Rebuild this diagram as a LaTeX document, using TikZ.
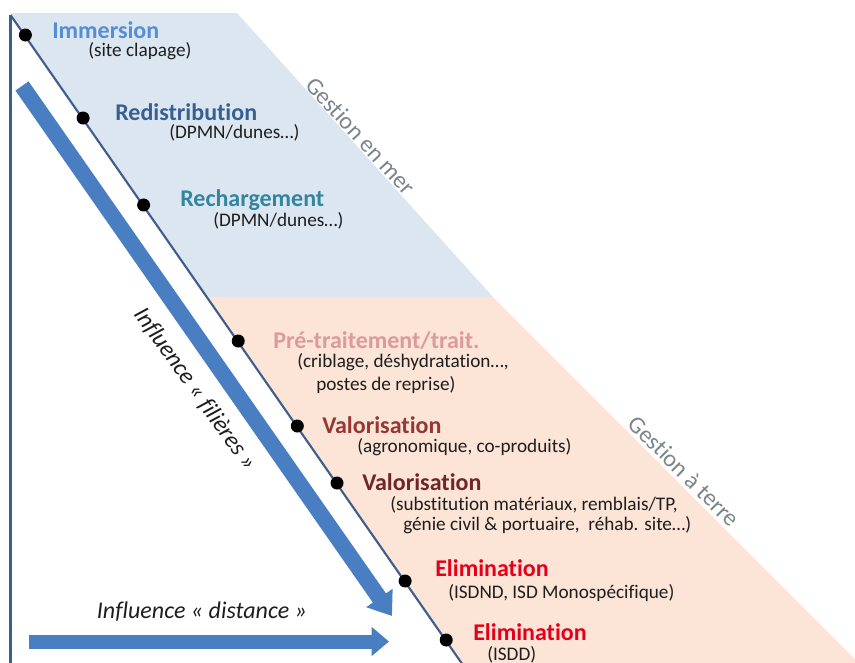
\documentclass[tikz,border=0pt]{standalone}
\usepackage{fontspec}
\setmainfont{Carlito}[Ligatures=NoCommon]
\usetikzlibrary{arrows.meta}
\definecolor{seablue}{HTML}{DCE6F1}
\definecolor{landorange}{HTML}{FCE4D6}
\definecolor{axisblue}{HTML}{3F5E8C}
\definecolor{arrowblue}{HTML}{4A7EC2}
\definecolor{subgrey}{HTML}{1E1E1E}
\definecolor{gestgrey}{HTML}{7E848C}
\definecolor{cImm}{HTML}{558ED5}
\definecolor{cRed}{HTML}{376092}
\definecolor{cRec}{HTML}{31859C}
\definecolor{cPre}{HTML}{DB9A9C}
\definecolor{cValA}{HTML}{953735}
\definecolor{cValB}{HTML}{6E2626}
\definecolor{cEli}{HTML}{E2001A}
\begin{document}
\begin{tikzpicture}[x=0.75pt,y=-0.75pt,
  title/.style={anchor=west, inner sep=0pt, font=\bfseries\fontsize{18}{20}\selectfont},
  sub/.style={anchor=west, inner sep=0pt, text=subgrey, font=\fontsize{14.4}{16}\selectfont},
  dotnode/.style={circle, fill=black, inner sep=0pt, minimum size=9.75pt},
  gestion/.style={inner sep=0pt, text=gestgrey, font=\fontsize{18}{20}\selectfont},
  influence/.style={inner sep=0pt, text=subgrey, font=\itshape\fontsize{18}{20}\selectfont},
  axisline/.style={draw=axisblue, line width=1.6pt},
  fatarrow/.style={draw=arrowblue, line cap=butt}
]
\useasboundingbox (0,0) rectangle (855,662);
\clip (0,0) rectangle (855,662);
% regions
\fill[seablue] (10.1,13) -- (237,13) -- (493,297) -- (207.6,297) -- cycle;
\fill[landorange] (207.6,297) -- (493,297) -- (862,666) -- (463.6,666) -- cycle;
% axes
\coordinate (vTop) at (10.5,15);
\coordinate (vBot) at (10.5,664);
\coordinate (dBot) at (463.6,666);
\draw[axisline, line width=1.9pt] (vTop) -- (vBot);
\draw[axisline] (vTop) -- (dBot);
% arrows
\coordinate (fA) at (22,86);
\coordinate (fB) at (392,616);
\draw[fatarrow, line width=12pt, -{Triangle[width=23pt,length=16.5pt]}] (fA) -- (fB);
\coordinate (hA) at (29,641.5);
\coordinate (hB) at (389,641.5);
\draw[fatarrow, line width=10.5pt, -{Triangle[width=21pt,length=13pt]}] (hA) -- (hB);
% dots
\node[dotnode] (d1) at (25.4,35) {};
\node[dotnode] (d2) at (83.1,118) {};
\node[dotnode] (d3) at (143.6,205) {};
\node[dotnode] (d4) at (238.2,341) {};
\node[dotnode] (d5) at (297.3,426) {};
\node[dotnode] (d6) at (337.0,483) {};
\node[dotnode] (d7) at (405.1,581) {};
\node[dotnode] (d8) at (446.2,640) {};
% labels
\node[title, text=cImm] (t1) at (52,30) {Immersion};
\node[sub] (s1) at (88,51) {(site clapage)};
\node[title, text=cRed] (t2) at (115,112) {Redistribution};
\node[sub] (s2) at (169,133) {(DPMN/dunes…)};
\node[title, text=cRec] (t3) at (180,200) {Rechargement};
\node[sub] (s3) at (213,221) {(DPMN/dunes…)};
\node[title, text=cPre] (t4) at (273,341) {Pré-traitement/trait.};
\node[sub] (s4a) at (297,362) {(criblage, déshydratation…,};
\node[sub] (s4b) at (316,385) {postes de reprise)};
\node[title, text=cValA] (t5) at (322,425) {Valorisation};
\node[sub] (s5) at (357,447) {(agronomique, co-produits)};
\node[title, text=cValB] (t6) at (362,482) {Valorisation};
\node[sub] (s6a) at (390,505) {(substitution matériaux, remblais/TP,};
\node[sub] (s6b) at (403,525) {génie civil \& portuaire,\ \ réhab. site…)};
\node[title, text=cEli] (t7) at (435,568) {Elimination};
\node[sub] (s7) at (448,593) {(ISDND, ISD Monospécifique)};
\node[title, text=cEli] (t8) at (473,632) {Elimination};
\node[sub] (s8) at (487,655) {(ISDD)};
% side labels
\node[gestion, rotate=-47.6] (gm) at (361,136) {Gestion en mer};
\node[gestion, rotate=-45] (gt) at (684,471) {Gestion à terre};
\node[influence, rotate=-54.5] (inf) at (195,389) {Influence « filières »};
\node[influence] (ind) at (202,612) {Influence « distance »};
\end{tikzpicture}
\end{document}
